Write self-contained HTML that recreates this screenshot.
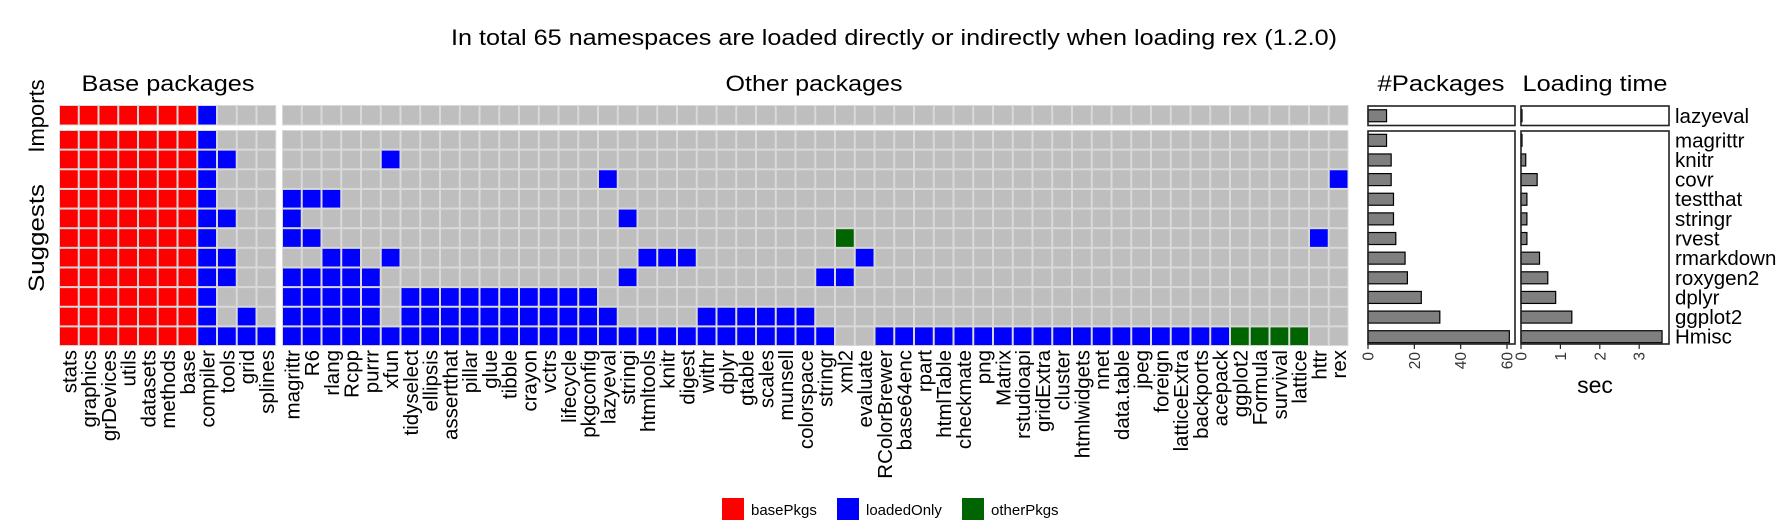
<!DOCTYPE html>
<html><head><meta charset="utf-8"><style>
html,body{margin:0;padding:0;background:#fff}
svg{display:block;font-family:"Liberation Sans",Arial,sans-serif}
</style></head><body>
<svg id="chart" width="1788" height="532" viewBox="0 0 1788 532" xmlns="http://www.w3.org/2000/svg">
<text x="894" y="45" text-anchor="middle" font-size="22" textLength="886" lengthAdjust="spacingAndGlyphs">In total 65 namespaces are loaded directly or indirectly when loading rex (1.2.0)</text>
<text x="168" y="91" text-anchor="middle" font-size="22" textLength="173" lengthAdjust="spacingAndGlyphs">Base packages</text>
<text x="814" y="91" text-anchor="middle" font-size="22" textLength="177" lengthAdjust="spacingAndGlyphs">Other packages</text>
<text x="1441" y="91" text-anchor="middle" font-size="22" textLength="127" lengthAdjust="spacingAndGlyphs">#Packages</text>
<text x="1595" y="91" text-anchor="middle" font-size="22" textLength="145" lengthAdjust="spacingAndGlyphs">Loading time</text>
<text transform="translate(44,116) rotate(-90)" text-anchor="middle" font-size="22">Imports</text>
<text transform="translate(44,238) rotate(-90)" text-anchor="middle" font-size="22" textLength="108" lengthAdjust="spacingAndGlyphs">Suggests</text>
<text x="1595" y="393" text-anchor="middle" font-size="23">sec</text>
<g id="grid"></g>
<g id="bars"></g>
<g id="legend">
 <g><rect x="722" y="498" width="22" height="22" fill="#ff0000"/><text x="751" y="515" font-size="15">basePkgs</text></g>
 <g><rect x="837" y="498" width="22" height="22" fill="#0000ff"/><text x="866" y="515" font-size="15">loadedOnly</text></g>
 <g><rect x="962" y="498" width="22" height="22" fill="#006400"/><text x="991" y="515" font-size="15">otherPkgs</text></g>
</g>
</svg>
<script>
const basePkgs = ['stats','graphics','grDevices','utils','datasets','methods','base','compiler','tools','grid','splines'];
const otherPkgs = ['magrittr','R6','rlang','Rcpp','purrr','xfun','tidyselect','ellipsis','assertthat','pillar','glue','tibble','crayon','vctrs','lifecycle','pkgconfig','lazyeval','stringi','htmltools','knitr','digest','withr','dplyr','gtable','scales','munsell','colorspace','stringr','xml2','evaluate','RColorBrewer','base64enc','rpart','htmlTable','checkmate','png','Matrix','rstudioapi','gridExtra','cluster','htmlwidgets','nnet','data.table','jpeg','foreign','latticeExtra','backports','acepack','ggplot2','Formula','survival','lattice','httr','rex'];
const rowNames = ['lazyeval','magrittr','knitr','covr','testthat','stringr','rvest','rmarkdown','roxygen2','dplyr','ggplot2','Hmisc'];
const nPackages = [8,8,10,10,11,11,12,16,17,23,31,61];
const loadTime = [0.02,0.02,0.12,0.41,0.15,0.15,0.15,0.47,0.68,0.88,1.29,3.58];
const baseLoaded = [[7],[7],[7,8],[7],[7],[7,8],[7],[7,8],[7,8],[7],[7,9],[7,8,9,10]];
const otherLoaded = [[],[],[5],[16,53],[0,1,2],[0,17],[0,1,52],[2,3,5,18,19,20,29],[0,1,2,3,4,17,27,28],[0,1,2,3,4,6,7,8,9,10,11,12,13,14,15],[0,1,2,3,4,6,7,8,9,10,11,12,13,14,15,16,21,22,23,24,25,26],[0,1,2,3,4,5,6,7,8,9,10,11,12,13,14,15,16,17,18,19,20,21,22,23,24,25,26,27,30,31,32,33,34,35,36,37,38,39,40,41,42,43,44,45,46,47]];
const otherAttached = [[],[],[],[],[],[],[28],[],[],[],[],[48,49,50,51]];
const pkgTicks = [0,20,40,60];
const timeTicks = [0,1,2,3];

const NS='http://www.w3.org/2000/svg';
function mk(tag,attrs,parent){const e=document.createElementNS(NS,tag);for(const k in attrs)e.setAttribute(k,attrs[k]);parent.appendChild(e);return e;}
const grid=document.getElementById('grid'), bars=document.getElementById('bars');
const pitchX=19.75, pitchY=19.64;
const baseX0=59, otherX0=282;
function rowY(i){return i===0?105:130+(i-1)*pitchY;}
function rowH(i){return i===0?20.5:pitchY;}
[[baseX0,basePkgs.length],[otherX0,otherPkgs.length]].forEach(([x0,n],pi)=>{
  [[105,20.5],[130,pitchY*11]].forEach(([y,h])=>{
    const r=mk('rect',{x:x0,y:y,width:n*pitchX,height:h,fill:'#d9d9d9'},grid);
    
    
  });
});
function cell(x,y,h,fill,name){
  const r=mk('rect',{x:x+1,y:y+1,width:pitchX-2,height:h-2,fill:fill},grid);
  
  
}
rowNames.forEach((rn,i)=>{
  const y=rowY(i),h=rowH(i);
  basePkgs.forEach((p,j)=>{
    let f='#bebebe'; if(j<7)f='#ff0000'; else if(baseLoaded[i].includes(j))f='#0000ff';
    cell(baseX0+j*pitchX,y,h,f,'cell-'+rn+'-'+p);
  });
  otherPkgs.forEach((p,j)=>{
    let f='#bebebe'; if(otherAttached[i].includes(j))f='#006400'; else if(otherLoaded[i].includes(j))f='#0000ff';
    cell(otherX0+j*pitchX,y,h,f,'cell-'+rn+'-'+p);
  });
});
function colLabel(txt,cx){
  const t=mk('text',{transform:'translate('+(cx+7.5)+',350) rotate(-90)','text-anchor':'end','font-size':'20.5'},grid);
  t.textContent=txt;
  
  
}
basePkgs.forEach((p,j)=>colLabel(p,baseX0+(j+0.5)*pitchX));
otherPkgs.forEach((p,j)=>colLabel(p,otherX0+(j+0.5)*pitchX));

const panels=[{x0:1368,x1:1515,scale:v=>1368+v*2.317,vals:nPackages,ticks:pkgTicks,name:'npackages'},
              {x0:1521,x1:1669,scale:v=>1521+v*39.4,vals:loadTime,ticks:timeTicks,name:'loadtime'}];
panels.forEach(P=>{
  P.vals.forEach((v,i)=>{
    const yc=rowY(i)+rowH(i)/2+0.5, bh=12;
    const r=mk('rect',{x:P.x0,y:yc-bh/2,width:Math.max(P.scale(v)-P.x0,1),height:bh,fill:'#7f7f7f',stroke:'#000','stroke-width':'1.2'},bars);
    
    
  });
  [[106,19.5],[131,213]].forEach(([y,h])=>{
    const f=mk('rect',{x:P.x0,y:y,width:P.x1-P.x0,height:h,fill:'none',stroke:'#222','stroke-width':'1.6'},bars);
    
    
  });
  P.ticks.forEach(t=>{
    const x=P.scale(t);
    const l=mk('line',{x1:x,x2:x,y1:344,y2:349,stroke:'#222','stroke-width':'1.2'},bars);
    
    
    const tx=mk('text',{transform:'translate('+(x+5.5)+',352) rotate(-90)','text-anchor':'end','font-size':'15.5',fill:'#333'},bars);
    tx.textContent=String(t);
    
    
  });
});
rowNames.forEach((rn,i)=>{
  const t=mk('text',{x:1675,y:rowY(i)+rowH(i)/2+7.5,'font-size':'20.5'},bars);
  t.textContent=rn;
  
  
});
</script>
</body></html>
